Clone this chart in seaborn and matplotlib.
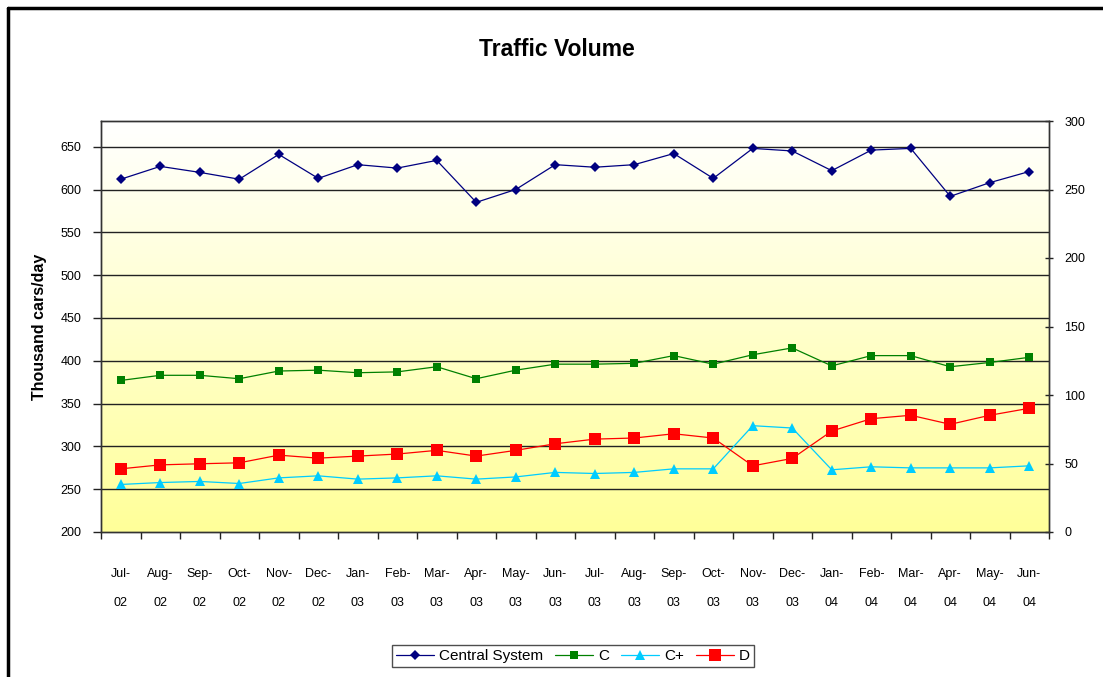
import numpy as np
import pandas as pd
import matplotlib
matplotlib.use("Agg")
import matplotlib.pyplot as plt
import seaborn as sns
from matplotlib.lines import Line2D
from matplotlib.colors import LinearSegmentedColormap

# ---- data ----
months = ["Jul-\n02", "Aug-\n02", "Sep-\n02", "Oct-\n02", "Nov-\n02", "Dec-\n02",
          "Jan-\n03", "Feb-\n03", "Mar-\n03", "Apr-\n03", "May-\n03", "Jun-\n03",
          "Jul-\n03", "Aug-\n03", "Sep-\n03", "Oct-\n03", "Nov-\n03", "Dec-\n03",
          "Jan-\n04", "Feb-\n04", "Mar-\n04", "Apr-\n04", "May-\n04", "Jun-\n04"]
central = [612, 627, 620, 612, 641, 613, 629, 625, 634, 585, 600, 629,
           626, 629, 642, 613, 648, 645, 622, 646, 648, 592, 608, 621]
c_vals = [377, 383, 383, 379, 388, 389, 386, 387, 393, 379, 389, 396,
          396, 397, 406, 396, 407, 415, 394, 406, 406, 393, 398, 404]
cplus = [34.7, 36.1, 36.9, 35.4, 39.5, 41.0, 38.6, 39.5, 41.0, 38.6, 40.2, 43.5,
         42.7, 43.5, 46.1, 46.1, 77.6, 75.9, 45.4, 47.6, 46.8, 46.8, 46.8, 48.3]
d_vals = [46.1, 49.0, 49.8, 50.5, 56.1, 53.9, 55.4, 56.9, 59.6, 55.4, 59.6, 64.4,
          67.8, 68.6, 71.7, 68.6, 48.3, 53.7, 73.7, 82.7, 85.2, 78.6, 85.2, 90.3]
left_ticks = [200, 250, 300, 350, 400, 450, 500, 550, 600, 650]
right_ticks = [0, 50, 100, 150, 200, 250, 300]

df = pd.DataFrame({"idx": np.arange(len(months)), "Central System": central,
                   "C": c_vals, "C+": cplus, "D": d_vals})

sns.set_theme(style="white")
plt.rcParams['font.family'] = ['Liberation Sans', 'DejaVu Sans']
plt.rcParams['text.color'] = 'black'
plt.rcParams['axes.labelcolor'] = 'black'
plt.rcParams['xtick.color'] = 'black'
plt.rcParams['ytick.color'] = 'black'

fig = plt.figure(figsize=(11.03, 6.77), dpi=100)
ax = fig.add_axes([101/1103, 1-532/677, (1049-101)/1103, (532-121)/677])
ax2 = ax.twinx()

# gradient background
grad = np.linspace(0, 1, 256).reshape(-1, 1)
cmap = LinearSegmentedColormap.from_list("bg", ["#FFFF99", "#FFFFFF"])
ax.imshow(grad, aspect='auto', cmap=cmap, origin='lower',
          extent=[0, 1, 0, 1], transform=ax.transAxes, zorder=0)

ax.set_xlim(-0.5, 23.5)
ax.set_ylim(200, 680)
ax2.set_ylim(0, 300)

for v in left_ticks[1:]:
    ax.axhline(v, color="#222222", lw=1.0, zorder=1)

navy = "#000080"; green = "#008000"; cyan = "#00CCFF"; red = "#FF0000"
sns.lineplot(data=df, x="idx", y="Central System", ax=ax, color=navy, lw=0.9,
             marker="D", markersize=5, markeredgewidth=0, zorder=5)
sns.lineplot(data=df, x="idx", y="C", ax=ax, color=green, lw=0.9,
             marker="s", markersize=5.5, markeredgewidth=0, zorder=5)
sns.lineplot(data=df, x="idx", y="C+", ax=ax2, color=cyan, lw=0.9,
             marker="^", markersize=6.5, markeredgewidth=0, zorder=5)
sns.lineplot(data=df, x="idx", y="D", ax=ax2, color=red, lw=0.9,
             marker="s", markersize=9, markeredgewidth=0, zorder=5)

ax.set_xlabel("")
ax.set_ylabel("Thousand cars/day", fontsize=11.5, fontweight="bold", labelpad=10)
ax2.set_ylabel("")

ax.set_xticks(np.arange(len(months)))
ax.set_xticklabels(months, fontsize=9, linespacing=2.9, color="black")
ax.set_xticks(np.arange(-0.5, 24, 1), minor=True)
ax.tick_params(axis="x", which="major", length=0, pad=26)
ax.tick_params(axis="x", which="minor", length=5, width=1, color="#222222", direction="out", bottom=True)

ax.set_yticks(left_ticks)
ax.set_yticklabels([str(v) for v in left_ticks], fontsize=9, color="black")
ax.tick_params(axis="y", length=6, width=1, color="#222222", direction="out", left=True, pad=8)

ax2.set_yticks(right_ticks)
ax2.set_yticklabels([str(v) for v in right_ticks], fontsize=9, color="black")
ax2.tick_params(axis="y", length=6, width=1, color="#222222", direction="inout", right=True, pad=8)

for a in (ax, ax2):
    for s in a.spines.values():
        s.set_color("#333333")
        s.set_linewidth(1.0)
ax2.patch.set_visible(False)

fig.text(557/1103, 1-50/677, "Traffic Volume", ha="center", va="center",
         fontsize=16.5, fontweight="bold", color="black")

handles = [Line2D([], [], color=navy, lw=0.9, marker="D", markersize=5, markeredgewidth=0),
           Line2D([], [], color=green, lw=0.9, marker="s", markersize=5.5, markeredgewidth=0),
           Line2D([], [], color=cyan, lw=0.9, marker="^", markersize=6.5, markeredgewidth=0),
           Line2D([], [], color=red, lw=0.9, marker="s", markersize=9, markeredgewidth=0)]
leg = fig.legend(handles, ["Central System", "C", "C+", "D"], loc="center",
                 bbox_to_anchor=(573/1103, 1-656/677), ncol=4, fontsize=11,
                 frameon=True, fancybox=False, edgecolor="#222222",
                 handlelength=2.5, handletextpad=0.3, columnspacing=0.8,
                 borderpad=0.25, borderaxespad=0)
leg.get_frame().set_linewidth(1.0)
for t in leg.get_texts():
    t.set_color("black")

# outer chart border (top and left)
fig.add_artist(Line2D([8/1103, 8/1103], [0, 1-8/677], transform=fig.transFigure, color="black", lw=2.5))
fig.add_artist(Line2D([8/1103, 1], [1-8/677, 1-8/677], transform=fig.transFigure, color="black", lw=2.5))

fig.savefig("out.png", dpi=100, facecolor="white")
